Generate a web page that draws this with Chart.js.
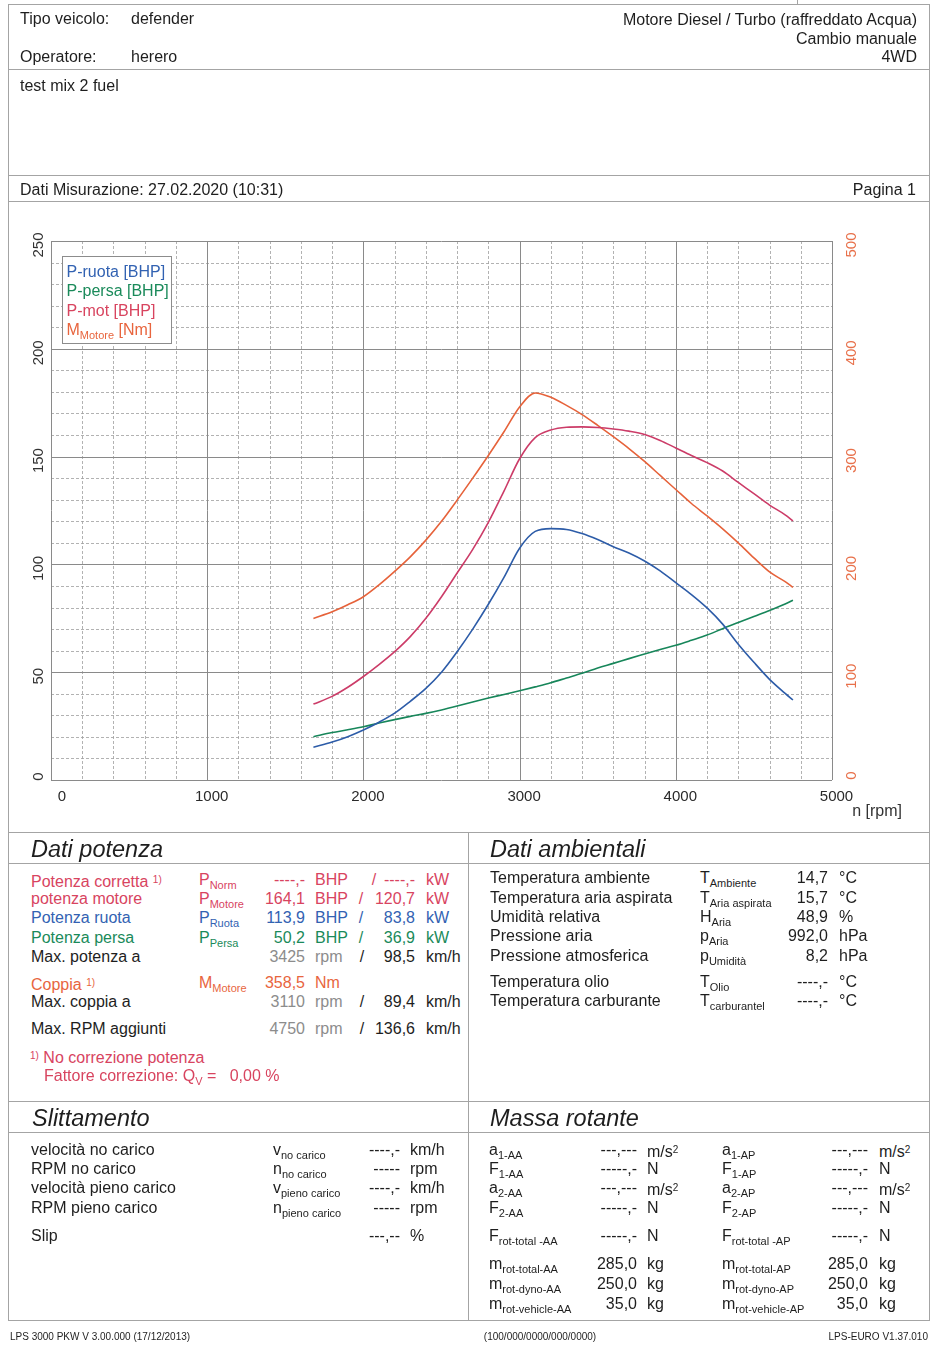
<!DOCTYPE html>
<html><head><meta charset="utf-8">
<script src="https://cdn.jsdelivr.net/npm/chart.js@4"></script>
<style>
html,body{margin:0;padding:0;background:#fff;}
#page{position:relative;width:940px;height:1350px;overflow:hidden;font-family:"Liberation Sans",Arial,Helvetica,sans-serif;color:#1e1e1e;background:#fff;}
.t{position:absolute;white-space:nowrap;line-height:0;}
.hl{position:absolute;height:1px;background:#a4a4a4;}
.vl{position:absolute;width:1px;background:#a4a4a4;}
sub{font-size:11px;vertical-align:-4px;line-height:0;}
sup{font-size:10px;vertical-align:4px;line-height:0;}
#chartwrap{position:absolute;left:0;top:200px;width:940px;height:630px;}
#legend{position:absolute;left:62px;top:256px;width:108px;height:86px;border:1px solid #8c8c8c;background:#fff;}
</style></head>
<body>
<div id="page">
<div id="chartwrap"><canvas id="c"></canvas></div>
</div>
<script>
// ---- chart data ----
const rpm     = [1680,1800,1900,2000,2100,2200,2300,2400,2500,2600,2700,2800,2900,3000,3100,3200,3300,3400,3500,3600,3700,3800,3900,4000,4100,4200,4300,4400,4500,4600,4700,4750];
const pRuota  = [15.2,17.6,20.1,23.2,26.8,31.0,36.5,42.5,50.0,59.5,70.0,81.5,94.0,107.5,115.3,116.6,116.2,114.3,111.5,108.2,105.3,101.6,97.0,91.5,86.0,79.8,72.3,63.0,54.6,46.7,40.2,37.1];
const pPersa  = [20.1,22.0,23.3,24.7,26.4,28.0,29.5,30.9,32.5,34.3,36.2,38.0,39.7,41.4,43.2,45.1,47.3,49.5,52.0,54.1,56.3,58.4,60.5,62.5,64.8,67.2,70.2,73.0,75.8,78.6,81.6,83.4];
const pMot    = [35.2,38.8,43.0,48.0,53.5,59.5,66.5,75.0,85.0,96.0,107.0,119.5,134.0,149.0,158.8,162.3,163.6,163.8,163.5,162.8,161.8,160.3,157.5,154.0,150.5,147.2,143.3,138.0,132.8,127.5,123.0,120.2];
const mMotore = [149.9,156.0,162.5,170.0,181.0,193.5,207.0,222.5,240.0,259.6,280.0,301.0,323.0,346.0,359.0,355.0,347.5,339.0,329.0,318.5,307.5,295.5,282.5,269.5,256.5,245.0,233.0,220.0,206.0,193.0,184.0,178.7];
const xTicks     = [0,1000,2000,3000,4000,5000];
const leftTicks  = [0,50,100,150,200,250];
const rightTicks = [0,100,200,300,400,500];
const seriesLabels = ['P-ruota [BHP]','P-persa [BHP]','P-mot [BHP]','M<sub>Motore</sub> [Nm]'];

const BLUE='#2d5ca8', GREEN='#17865a', PINK='#cc3c68', ORANGE='#e6623a';
const TBLUE='#3262b2', TGREEN='#1a8a5a', TPINK='#d8445f', TORANGE='#e8653e', GRAY='#8c8c8c';

const page=document.getElementById('page');
function T(x,y,html,o={}){
  const d=document.createElement('div');d.className='t';d.innerHTML=html;
  d.style.top=y+'px';d.style.fontSize=(o.s||16)+'px';
  if(o.c)d.style.color=o.c;
  if(o.i)d.style.fontStyle='italic';
  if(o.a==='r'){d.style.right=(940-x)+'px';}
  else if(o.a==='c'){d.style.left=x+'px';d.style.transform='translateX(-50%)';}
  else d.style.left=x+'px';
  page.appendChild(d);return d;
}
function H(x1,x2,y){const d=document.createElement('div');d.className='hl';d.style.left=x1+'px';d.style.width=(x2-x1)+'px';d.style.top=y+'px';page.appendChild(d);}
function V(x,y1,y2){const d=document.createElement('div');d.className='vl';d.style.left=x+'px';d.style.top=y1+'px';d.style.height=(y2-y1)+'px';page.appendChild(d);}

// ---- frame lines ----
H(8,930,4); V(797,0,4);
V(8,4,1321); V(929,4,1321);
H(8,930,69); H(8,930,175); H(8,930,201);
H(8,930,832); H(8,930,863); H(8,930,1101); H(8,930,1132); H(8,930,1320);
V(468,832,1320);

// ---- header ----
T(20,19,'Tipo veicolo:');T(131,19,'defender');
T(20,57,'Operatore:');T(131,57,'herero');
T(917,20,'Motore Diesel / Turbo (raffreddato Acqua)',{a:'r'});
T(917,39,'Cambio manuale',{a:'r'});
T(917,57,'4WD',{a:'r'});
T(20,86,'test mix 2 fuel');
T(20,190,'Dati Misurazione: 27.02.2020 (10:31)');
T(916,190,'Pagina 1',{a:'r'});

// ---- legend ----
const lg=document.createElement('div');lg.id='legend';page.appendChild(lg);
const lgCol=[TBLUE,TGREEN,TPINK,TORANGE], lgY=[271.5,291,310.5,330];
seriesLabels.forEach((s,i)=>T(66.5,lgY[i],s,{c:lgCol[i]}));
T(902,811,'n [rpm]',{a:'r',c:'#333'});

// ---- Dati potenza ----
T(31,849,'Dati potenza',{s:23.5,i:1});
function row(y,lab,lc,sym,sc,v1,u1,vc,sl,v2,u2,c2,uc1){
  T(31,y,lab,{c:lc});
  if(sym)T(199,y,sym,{c:sc});
  if(v1)T(305,y,v1,{a:'r',c:vc});
  if(u1)T(315,y,u1,{c:uc1||vc});
  if(sl)T(sl,y,'/',{a:'c',c:c2});
  if(v2)T(415,y,v2,{a:'r',c:c2});
  if(u2)T(426,y,u2,{c:c2});
}
row(880,'Potenza corretta <sup>1)</sup>',TPINK,'P<sub>Norm</sub>',TPINK,'----,-','BHP',TPINK,374,'----,-','kW',TPINK);
row(899,'potenza motore',TPINK,'P<sub>Motore</sub>',TPINK,'164,1','BHP',TPINK,361,'120,7','kW',TPINK);
row(918,'Potenza ruota',TBLUE,'P<sub>Ruota</sub>',TBLUE,'113,9','BHP',TBLUE,361,'83,8','kW',TBLUE);
row(938,'Potenza persa',TGREEN,'P<sub>Persa</sub>',TGREEN,'50,2','BHP',TGREEN,361,'36,9','kW',TGREEN);
row(957,'Max. potenza a','#1e1e1e',null,null,'3425','rpm',GRAY,362,'98,5','km/h','#1e1e1e');
row(983,'Coppia <sup>1)</sup>',TORANGE,'M<sub>Motore</sub>',TORANGE,'358,5','Nm',TORANGE,null,null,null,null);
row(1002,'Max. coppia a','#1e1e1e',null,null,'3110','rpm',GRAY,362,'89,4','km/h','#1e1e1e');
row(1029,'Max. RPM aggiunti','#1e1e1e',null,null,'4750','rpm',GRAY,362,'136,6','km/h','#1e1e1e');
T(30,1056,'<sup>1)</sup> No correzione potenza',{c:TPINK});
T(44,1076,'Fattore correzione: Q<sub>V</sub> =&nbsp;&nbsp;&nbsp;0,00 %',{c:TPINK});

// ---- Dati ambientali ----
T(490,849,'Dati ambientali',{s:23.5,i:1});
[[878,'Temperatura ambiente','T<sub>Ambiente</sub>','14,7','°C'],
 [898,'Temperatura aria aspirata','T<sub>Aria aspirata</sub>','15,7','°C'],
 [917,'Umidità relativa','H<sub>Aria</sub>','48,9','%'],
 [936,'Pressione aria','p<sub>Aria</sub>','992,0','hPa'],
 [956,'Pressione atmosferica','p<sub>Umidità</sub>','8,2','hPa'],
 [982,'Temperatura olio','T<sub>Olio</sub>','----,-','°C'],
 [1001,'Temperatura carburante','T<sub>carburantel</sub>','----,-','°C']
].forEach(r=>{T(490,r[0],r[1]);T(700,r[0],r[2]);T(828,r[0],r[3],{a:'r'});T(839,r[0],r[4]);});

// ---- Slittamento ----
T(32,1118,'Slittamento',{s:23.5,i:1});
[[1150,'velocità no carico','v<sub>no carico</sub>','----,-','km/h'],
 [1169,'RPM no carico','n<sub>no carico</sub>','-----','rpm'],
 [1188,'velocità pieno carico','v<sub>pieno carico</sub>','----,-','km/h'],
 [1208,'RPM pieno carico','n<sub>pieno carico</sub>','-----','rpm'],
 [1236,'Slip','','---,--','%']
].forEach(r=>{T(31,r[0],r[1]);if(r[2])T(273,r[0],r[2]);T(400,r[0],r[3],{a:'r'});T(410,r[0],r[4]);});

// ---- Massa rotante ----
T(490,1118,'Massa rotante',{s:23.5,i:1});
[[1150,'a<sub>1-AA</sub>','---,---','m/s<sup>2</sup>','a<sub>1-AP</sub>'],
 [1169,'F<sub>1-AA</sub>','-----,-','N','F<sub>1-AP</sub>'],
 [1188,'a<sub>2-AA</sub>','---,---','m/s<sup>2</sup>','a<sub>2-AP</sub>'],
 [1208,'F<sub>2-AA</sub>','-----,-','N','F<sub>2-AP</sub>'],
 [1236,'F<sub>rot-total -AA</sub>','-----,-','N','F<sub>rot-total -AP</sub>'],
 [1264,'m<sub>rot-total-AA</sub>','285,0','kg','m<sub>rot-total-AP</sub>'],
 [1284,'m<sub>rot-dyno-AA</sub>','250,0','kg','m<sub>rot-dyno-AP</sub>'],
 [1304,'m<sub>rot-vehicle-AA</sub>','35,0','kg','m<sub>rot-vehicle-AP</sub>']
].forEach(r=>{T(489,r[0],r[1]);T(637,r[0],r[2],{a:'r'});T(647,r[0],r[3]);
  T(722,r[0],r[4]);T(868,r[0],r[2],{a:'r'});T(879,r[0],r[3]);});

// ---- footer ----
T(10,1337,'LPS 3000 PKW V 3.00.000 (17/12/2013)',{s:10});
T(540,1337,'(100/000/0000/000/0000)',{s:10,a:'c'});
T(928,1337,'LPS-EURO V1.37.010',{s:10,a:'r'});

// ---- chart ----
const FONT='15px "Liberation Sans", Arial, sans-serif';
const gridPlugin={
  id:'dynoGrid',
  beforeDatasetsDraw(chart){
    const {ctx,chartArea:a,scales:{x,y}}=chart;
    ctx.save();
    ctx.setLineDash([3,2]);ctx.strokeStyle='#9e9e9e';ctx.lineWidth=0.8;
    for(let v=x.min;v<=x.max;v+=200){if(v%1000===0)continue;const p=Math.round(x.getPixelForValue(v))+0.5;ctx.beginPath();ctx.moveTo(p,a.top);ctx.lineTo(p,a.bottom);ctx.stroke();}
    for(let v=y.min;v<=y.max;v+=10){if(v%50===0)continue;const p=Math.round(y.getPixelForValue(v))+0.5;ctx.beginPath();ctx.moveTo(a.left,p);ctx.lineTo(a.right,p);ctx.stroke();}
    ctx.setLineDash([]);ctx.strokeStyle='#8a8a8a';ctx.lineWidth=1;
    for(let v=x.min;v<=x.max;v+=1000){const p=Math.round(x.getPixelForValue(v))+0.5;ctx.beginPath();ctx.moveTo(p,a.top);ctx.lineTo(p,a.bottom);ctx.stroke();}
    for(let v=y.min;v<=y.max;v+=50){const p=Math.round(y.getPixelForValue(v))+0.5;ctx.beginPath();ctx.moveTo(a.left,p);ctx.lineTo(a.right,p);ctx.stroke();}
    ctx.restore();
  },
  afterDraw(chart){
    const {ctx,chartArea:a,scales:{x,y,y2}}=chart;
    ctx.save();ctx.font=FONT;ctx.textAlign='center';ctx.textBaseline='middle';
    ctx.fillStyle='#2a2a2a';
    xTicks.forEach(v=>{const p=x.getPixelForValue(v);ctx.fillText(String(v),v===0?p+11:p+4.5,a.bottom+17);});
    const rot=(txt,px,py,col)=>{ctx.save();ctx.fillStyle=col;ctx.translate(px,py);ctx.rotate(-Math.PI/2);ctx.fillText(txt,0,0);ctx.restore();};
    leftTicks.forEach(v=>{const p=Math.min(y.getPixelForValue(v)+4,a.bottom-3.5);rot(String(v),39,p,'#333');});
    rightTicks.forEach(v=>{const p=Math.min(y2.getPixelForValue(v)+4,a.bottom-4.5);rot(String(v),852,p,'#e8704a');});
    ctx.restore();
  }
};
const pts=arr=>rpm.map((r,i)=>({x:r,y:arr[i]}));
new Chart(document.getElementById('c'),{
  type:'line',
  data:{datasets:[
    {label:'P-ruota [BHP]',data:pts(pRuota),borderColor:BLUE,yAxisID:'y'},
    {label:'P-persa [BHP]',data:pts(pPersa),borderColor:GREEN,yAxisID:'y'},
    {label:'P-mot [BHP]',data:pts(pMot),borderColor:PINK,yAxisID:'y'},
    {label:'M Motore [Nm]',data:pts(mMotore),borderColor:ORANGE,yAxisID:'y2'}
  ]},
  options:{
    responsive:true,maintainAspectRatio:false,animation:false,
    elements:{point:{radius:0,hoverRadius:0},line:{borderWidth:1.6,cubicInterpolationMode:'monotone',fill:false}},
    layout:{padding:{top:41,left:0,right:0,bottom:0}},
    plugins:{legend:{display:false},tooltip:{enabled:false},title:{display:false}},
    events:[],
    scales:{
      x:{type:'linear',min:0,max:5000,ticks:{display:false},grid:{display:false},border:{display:false},afterFit(s){s.height=50;}},
      y:{type:'linear',position:'left',min:0,max:250,ticks:{display:false},grid:{display:false},border:{display:false},afterFit(s){s.width=51;}},
      y2:{type:'linear',position:'right',min:0,max:500,ticks:{display:false},grid:{display:false},border:{display:false},afterFit(s){s.width=108;}}
    }
  },
  plugins:[gridPlugin]
});
</script>
</body></html>
